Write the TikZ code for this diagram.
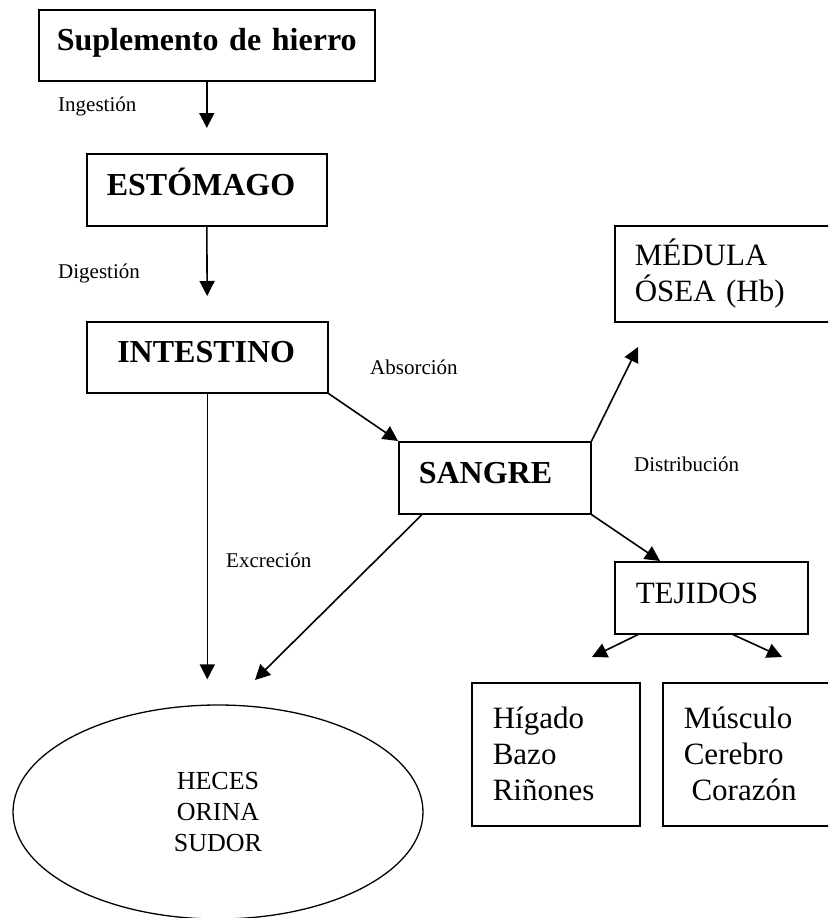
\documentclass[tikz,border=0pt]{standalone}
\usepackage{fontspec}
\setmainfont{Liberation Serif}
\usetikzlibrary{calc,arrows.meta,shapes.geometric}

\tikzset{
	caja/.style={draw, line width=1.6pt, anchor=north west, inner xsep=20pt, inner ysep=0pt, align=left},
	negrita/.style={font=\fontsize{32}{37}\selectfont\bfseries, text height=22.4pt, text depth=11.2pt},
	normal/.style={font=\fontsize{31}{36}\selectfont},
	etiqueta/.style={anchor=base west, inner sep=0pt, font=\fontsize{21}{25}\selectfont},
	flecha/.style={line width=1.6pt, -{Triangle[length=15pt,width=15pt]}}
}

\begin{document}
\begin{tikzpicture}[x=1pt, y=-1pt]
			%%%%% START %%%%%
			
			\clip (0, 0) rectangle (828, 918);
			
			\node[caja, negrita, inner xsep=18pt, text width=300pt, minimum height=71pt] (sup) at (38, 9) {Suplemento de hierro};
			\node[caja, negrita, text width=200pt, minimum height=72pt] (est) at (86, 153) {ESTÓMAGO};
			\node[caja, negrita, inner xsep=30.5pt, text width=180pt, minimum height=71pt] (int) at (86, 321) {INTESTINO};
			\node[caja, negrita, text width=152pt, minimum height=72pt] (san) at (398, 441) {SANGRE};
			
			\node[caja, normal, text width=186pt, minimum height=96pt] (med) at (614, 225) {MÉDULA\\ÓSEA (Hb)};
			\node[caja, normal, text height=22.4pt, text depth=11.2pt, inner xsep=21pt, text width=151pt, minimum height=72pt] (tej) at (614, 561) {TEJIDOS};
			\node[caja, normal, inner xsep=21pt, text width=126pt, minimum height=143pt] (hig) at (471, 682) {Hígado\\Bazo\\Riñones};
			\node[caja, normal, inner xsep=21pt, text width=146pt, minimum height=143pt] (mus) at (662, 682) {Músculo\\Cerebro\\\hspace*{0.25em}Corazón};
			
			\node[draw, ellipse, line width=1.3pt, minimum width=410pt, minimum height=214pt, inner sep=0pt, align=center, font=\fontsize{26}{31}\selectfont] (hec) at (218, 812) {HECES\\ORINA\\SUDOR};
			
			\node[etiqueta] (ing) at (58, 111) {Ingestión};
			\node[etiqueta] (dig) at (58, 278) {Digestión};
			\node[etiqueta] (abs) at (370, 374) {Absorción};
			\node[etiqueta] (dis) at (634, 471) {Distribución};
			\node[etiqueta] (exc) at (226, 567) {Excreción};
			
			\coordinate (pmed) at (638, 347);
			\coordinate (phig) at (592, 657);
			\coordinate (pmus) at (782, 657);
			\coordinate (pexc) at (255, 680);
			
			\draw[flecha, shorten >=25pt] (sup.south) -- (est.north);
			\draw[flecha, shorten >=25pt] (est.south) -- (int.north);
			\draw[flecha] (int.south east) -- (san.north west);
			\draw[flecha] (san.north east) -- (pmed);
			\draw[flecha] (san.south east) -- ($(tej.north west)+(46, 0)$);
			\draw[flecha] ($(tej.south west)+(24, 0)$) -- (phig);
			\draw[flecha] ($(tej.south west)+(119, 0)$) -- (pmus);
			\draw[flecha, shorten >=25pt] (int.south) -- (int.south |- hec.north);
			\draw[flecha] ($(san.south west)+(24, 0)$) -- (pexc);
			
			%%%%% END %%%%%
\end{tikzpicture}
\end{document}
